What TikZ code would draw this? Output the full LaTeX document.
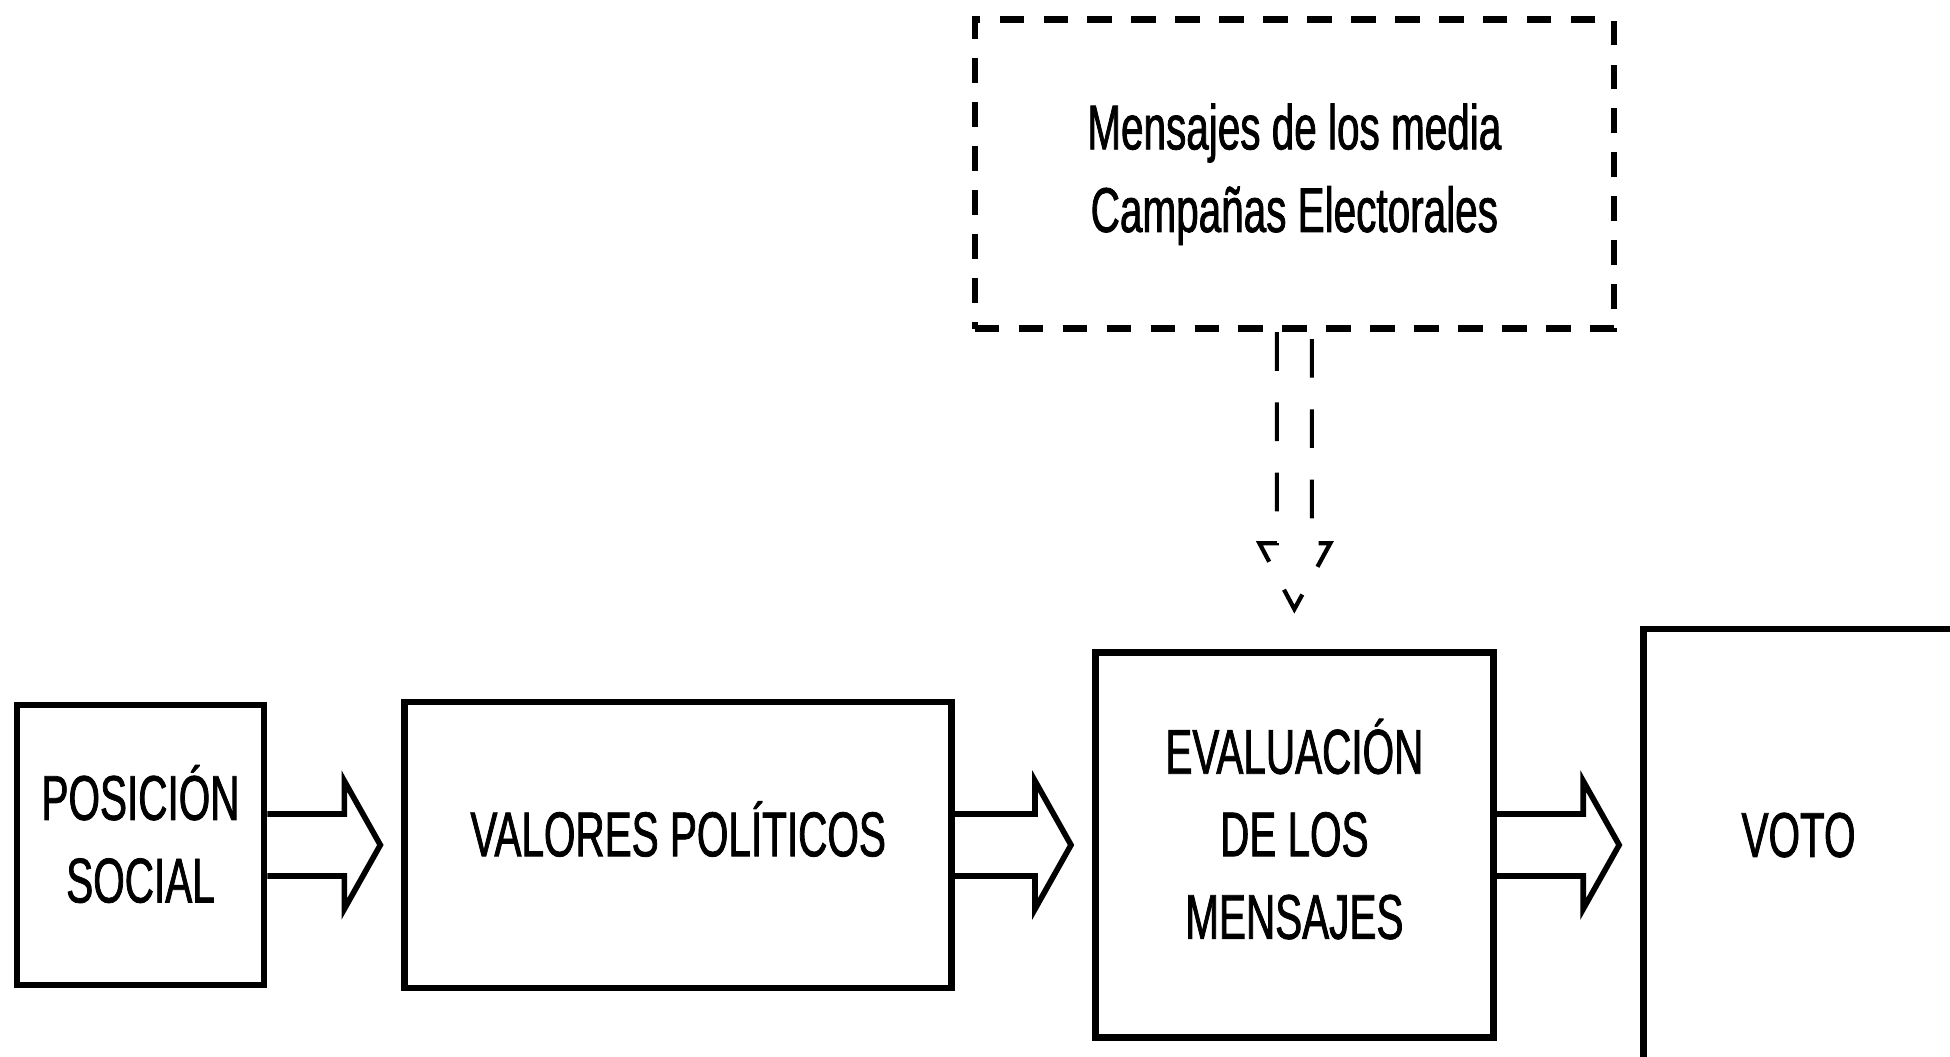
\documentclass[tikz,border=0pt]{standalone}
\usepackage{fontspec}
\setmainfont{Liberation Sans}[FakeStretch=0.64, FakeBold=1.2]
\usepackage{tikz}
\usetikzlibrary{positioning, calc}

% invisible depth, lifts the text inside its box
\newcommand{\lift}[1]{\rule[-#1]{0pt}{#1}}

% hollow double-line arrow from one box to the next
\newcommand{\fatarrow}[2]{%
  \draw[hollow] ($(#1.east)+(0,0.31)$)
    -- ($(#2.west |- #1.east)+(-0.57,0.31)$)
    -- ($(#2.west |- #1.east)+(-0.57,0.64)$)
    -- ($(#2.west |- #1.east)+(-0.21,0)$)
    -- ($(#2.west |- #1.east)+(-0.57,-0.64)$)
    -- ($(#2.west |- #1.east)+(-0.57,-0.31)$)
    -- ($(#1.east)+(0,-0.31)$);%
}

\begin{document}
\begin{tikzpicture}[
    box/.style={draw, line width=1.9pt, align=center, inner sep=0pt, font=\fontsize{18}{23.5}\selectfont},
    mediabox/.style={box, line width=1.9pt, dash pattern=on 7pt off 5.5pt},
    hollow/.style={line width=1.6pt, line join=miter},
    hollowdash/.style={line width=1.2pt, dash pattern=on 11pt off 9pt},
]
\useasboundingbox (0,0) rectangle (19.5,10.57);

% Boxes
\node[box, minimum width=2.47cm, minimum height=2.80cm] (posicion) at (1.405,2.12) {POSICIÓN\\SOCIAL\lift{6.4pt}};
\node[box, minimum width=5.47cm, minimum height=2.86cm, right=1.34cm of posicion] (valores) {VALORES POLÍTICOS\lift{9.2pt}};
\node[box, minimum width=3.98cm, minimum height=3.85cm, right=1.37cm of valores] (evaluacion) {EVALUACIÓN\\DE LOS\\MENSAJES\lift{9.2pt}};
\node[box, minimum width=3.10cm, minimum height=4.32cm, right=1.435cm of evaluacion] (voto) {VOTO\lift{5.8pt}};
\node[mediabox, minimum width=6.39cm, minimum height=3.09cm, above=3.17cm of evaluacion] (medios) {Mensajes de los media\\Campañas Electorales};

% Arrows
\fatarrow{posicion}{valores}
\fatarrow{valores}{evaluacion}
\fatarrow{evaluacion}{voto}

% Dashed influence arrow
\draw[hollowdash] ($(medios.south)+(-0.175,0)$)
  -- ($(evaluacion.north)+(-0.175,1.06)$)
  -- ($(evaluacion.north)+(-0.35,1.06)$)
  -- ($(evaluacion.north)+(0,0.40)$)
  -- ($(evaluacion.north)+(0.36,1.06)$)
  -- ($(evaluacion.north)+(0.175,1.06)$)
  -- ($(medios.south)+(0.175,0)$);

\end{tikzpicture}
\end{document}
